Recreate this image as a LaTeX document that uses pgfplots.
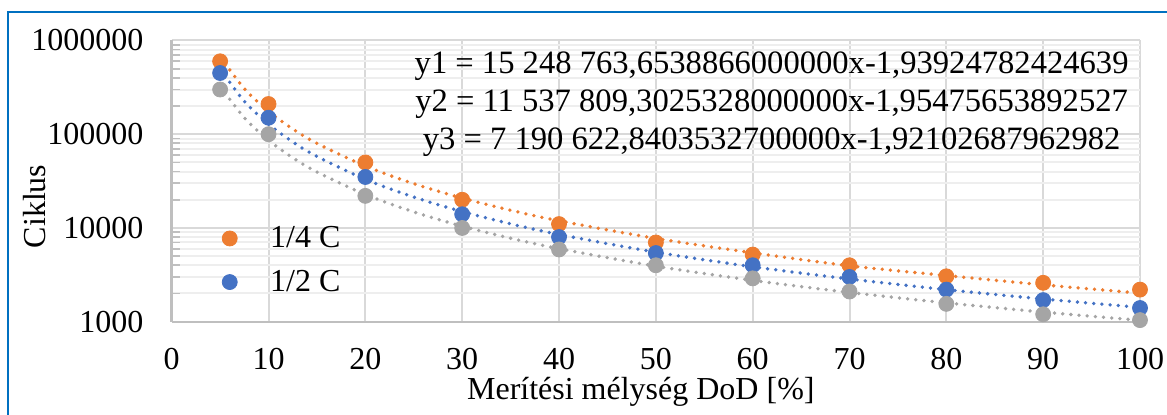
\documentclass[border=0pt]{standalone}
\usepackage{fontspec}
\setmainfont{Liberation Serif}
\usepackage{pgfplots}
\pgfplotsset{compat=1.18}
\definecolor{cOr}{RGB}{237,125,49}
\definecolor{cBl}{RGB}{68,114,196}
\definecolor{cGr}{RGB}{165,165,165}
\definecolor{cGrid}{RGB}{217,217,217}
\definecolor{cMinor}{RGB}{238,238,238}
\definecolor{cAxis}{RGB}{191,191,191}
\definecolor{cBorder}{RGB}{0,112,192}
\begin{document}
\begin{tikzpicture}[font=\fontsize{16}{19}\selectfont]
\useasboundingbox (-85.85pt,-46.15pt) rectangle (497.65pt,160.85pt);
\draw[cBorder, line width=1pt] (-81.7pt,-50pt) -- (-81.7pt,154.7pt) -- (500pt,154.7pt);
\begin{axis}[
  scale only axis, width=484.15pt, height=140.6pt,
  xmin=0, xmax=100, ymode=log, ymin=1000, ymax=1000000,
  clip=false,
  axis lines*=left,
  axis line style={cAxis, line width=1.2pt},
  xtick={0,10,...,100},
  ytick={1000,10000,100000,1000000},
  yticklabels={1000,10000,100000,1000000},
  minor ytick={2000,3000,4000,5000,6000,7000,8000,9000,20000,30000,40000,50000,60000,70000,80000,90000,200000,300000,400000,500000,600000,700000,800000,900000},
  minor x tick num=0,
  ytick pos=left, xtick pos=bottom,
  major tick length=0pt, minor tick length=4pt,
  tick align=inside,
  minor tick style={cAxis, line width=0.9pt},
  xmajorgrids, ymajorgrids, yminorgrids,
  major grid style={cGrid, line width=1pt},
  minor grid style={cMinor, line width=1pt},
  /pgf/number format/assume math mode=true,
  tick label style={font=\fontsize{16}{19}\selectfont},
  yticklabel style={inner sep=0pt, anchor=east, xshift=-14pt},
  xticklabel style={inner sep=0pt, anchor=north, yshift=-13pt},
  xlabel={Merítési mélység DoD [\%]},
  ylabel={Ciklus},
  label style={font=\fontsize{16}{19}\selectfont, inner sep=0pt},
  xlabel style={at={(axis description cs:0.4845,0)}, anchor=base, yshift=-38.7pt},
  ylabel style={at={(axis description cs:-0.1415,0.41)}, anchor=center},
  legend cell align=left,
  legend image code/.code={\draw plot coordinates {(0pt,0pt)};},
  legend style={draw=none, fill=none, inner sep=0pt, outer sep=0pt,
    font=\fontsize{16}{19}\selectfont,
    nodes={inner sep=0pt},
    column sep=16.5pt, row sep=9.7pt,
    at={(axis description cs:0.0522,0.339)}, anchor=north west},
]
\addplot[only marks, mark=*, mark size=3.75pt, color=cOr] coordinates {
(5,600000)(10,210000)(20,50000)(30,20000)(40,11000)(50,7000)(60,5200)(70,4000)(80,3050)(90,2600)(100,2200)};
\addlegendentry{1/4 C}
\addplot[only marks, mark=*, mark size=3.75pt, color=cBl] coordinates {
(5,450000)(10,150000)(20,35000)(30,14000)(40,8000)(50,5400)(60,4000)(70,3000)(80,2200)(90,1700)(100,1400)};
\addlegendentry{1/2 C}
\addplot[only marks, mark=*, mark size=3.75pt, color=cGr, forget plot] coordinates {
(5,300000)(10,100000)(20,22000)(30,10000)(40,5900)(50,4000)(60,2900)(70,2100)(80,1550)(90,1200)(100,1040)};
% trendlines (values of the displayed power fits)
\addplot[cOr, line width=1.9pt, line cap=round, dash pattern=on 0pt off 4.1pt, smooth, forget plot] coordinates {
(5,672600)(7.5,306407)(10,175383)(12.5,113780)(15,79894)(20,45734)(25,29668)(30,20832)(35,15450)(40,11925)(50,7736)(60,5432)(70,3949)(80,3109)(90,2474.5)(100,2017)};
\addplot[cBl, line width=1.9pt, line cap=round, dash pattern=on 0pt off 4.1pt, smooth, forget plot] coordinates {
(5,496374)(7.5,224698)(10,128049)(12.5,82781)(15,57963)(20,33032)(25,21354)(30,14953)(35,11062)(40,8521)(50,5509)(60,3857)(70,2853.7)(80,2198.1)(90,1746)(100,1421.1)};
\addplot[cGr, line width=1.9pt, line cap=round, dash pattern=on 0pt off 4.1pt, smooth, forget plot] coordinates {
(5,326617)(7.5,149883)(10,86245)(12.5,56178)(15,39578)(20,22775)(25,14835)(30,10451)(35,7773)(40,6014)(50,3917)(60,2759.9)(70,2052.5)(80,1588.1)(90,1266.5)(100,1034.5)};
\node[anchor=base, font=\fontsize{16.3}{19}\selectfont] at (axis description cs:0.6196,0.881) {y1 = 15 248 763,6538866000000x-1,93924782424639};
\node[anchor=base, font=\fontsize{16.3}{19}\selectfont] at (axis description cs:0.6196,0.746) {y2 = 11 537 809,3025328000000x-1,95475653892527};
\node[anchor=base, font=\fontsize{16.3}{19}\selectfont] at (axis description cs:0.6196,0.614) {y3 = 7 190 622,8403532700000x-1,92102687962982};
\end{axis}
\end{tikzpicture}
\end{document}
